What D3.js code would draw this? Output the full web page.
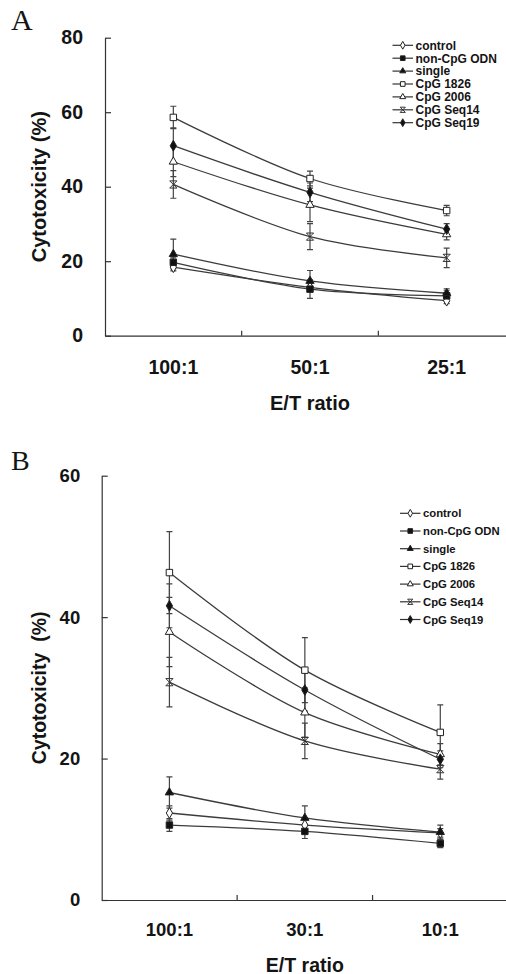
<!DOCTYPE html>
<html><head><meta charset="utf-8">
<script src="https://cdn.jsdelivr.net/npm/d3@7"></script>
<style>
body{margin:0;background:#fff}
svg{display:block}
text{font-family:Arial,"Liberation Sans",sans-serif;font-weight:bold;fill:#141414}
</style>
</head><body>
<svg id="chart" width="506" height="974"></svg>
<script>
// ---------- data ----------
const seriesNames = ["control","non-CpG ODN","single","CpG 1826","CpG 2006","CpG Seq14","CpG Seq19"];
const categoriesA = ["100:1","50:1","25:1"];
const categoriesB = ["100:1","30:1","10:1"];
const yTicksA = [0,20,40,60,80];
const yTicksB = [0,20,40,60];

// Panel A means (%)
const aControl = [18.4, 13.0, 9.4];
const aNonCpG  = [19.7, 12.5, 10.7];
const aSingle  = [21.9, 14.7, 11.4];
const a1826    = [58.6, 42.2, 33.6];
const a2006    = [46.7, 35.1, 27.2];
const aSeq14   = [40.6, 26.6, 20.9];
const aSeq19   = [51.0, 38.5, 28.6];
// Panel A error (SD)
const aControlErr = [1.0, 1.0, 0.8];
const aNonCpGErr  = [1.2, 2.5, 1.5];
const aSingleErr  = [4.0, 2.8, 1.2];
const a1826Err    = [3.0, 2.0, 1.4];
const a2006Err    = [4.0, 4.5, 1.5];
const aSeq14Err   = [3.7, 3.5, 2.6];
const aSeq19Err   = [4.8, 2.5, 1.5];

// Panel B means (%)
const bControl = [12.3, 10.6, 9.5];
const bNonCpG  = [10.6, 9.7, 8.0];
const bSingle  = [15.2, 11.6, 9.6];
const b1826    = [46.3, 32.5, 23.7];
const b2006    = [37.9, 26.5, 20.6];
const bSeq14   = [30.8, 22.5, 18.5];
const bSeq19   = [41.6, 29.7, 19.9];
// Panel B error (SD)
const bControlErr = [1.0, 0.8, 0.6];
const bNonCpGErr  = [0.9, 1.0, 0.6];
const bSingleErr  = [2.2, 1.7, 1.0];
const b1826Err    = [5.8, 4.6, 3.9];
const b2006Err    = [4.9, 3.5, 1.5];
const bSeq14Err   = [3.5, 2.5, 1.4];
const bSeq19Err   = [3.1, 3.0, 1.2];

// ---------- styling ----------
const markerStyles = [
  {type:d3.symbolDiamond, fill:"#fff"},
  {type:d3.symbolSquare,  fill:"#111"},
  {type:d3.symbolTriangle,fill:"#111"},
  {type:d3.symbolSquare,  fill:"#fff"},
  {type:d3.symbolTriangle,fill:"#fff"},
  {type:"x",              fill:"none"},
  {type:d3.symbolDiamond, fill:"#111"}
];
const lineColor = "#3c3c3c";
const svg = d3.select("#chart");

function drawMarker(g, style, x, y, size){
  if(style.type === "x"){
    const h = size;
    g.append("path")
      .attr("d", `M${x-h},${y-h}L${x+h},${y+h}M${x-h},${y+h}L${x+h},${y-h}M${x-h},${y-h}L${x+h},${y-h}M${x-h},${y+h}L${x+h},${y+h}`)
      .attr("stroke","#333").attr("stroke-width",1).attr("fill","none");
  } else {
    const area = style.type === d3.symbolDiamond ? size*size*2.6 : (style.type===d3.symbolTriangle ? size*size*2.3 : size*size*3.2);
    g.append("path")
      .attr("d", d3.symbol().type(style.type).size(area)())
      .attr("transform",`translate(${x},${y})`)
      .attr("fill", style.fill).attr("stroke","#222").attr("stroke-width",1);
  }
}

function drawPanel(cfg){
  const g = svg.append("g");
  const x = d3.scaleBand().domain(cfg.cats).range([cfg.xLeft, cfg.xRight]).padding(0);
  const y = d3.scaleLinear().domain([0, cfg.yMax]).range([cfg.yBottom, cfg.yTop]);

  // panel letter
  g.append("text").text(cfg.letter)
    .attr("x", cfg.letterX).attr("y", cfg.letterY)
    .style("font-family","'Liberation Serif','Times New Roman',serif")
    .style("font-weight","normal").style("font-size", cfg.letterSize+"px");

  // y axis: line + inner ticks
  const yAxisLine = g.append("g").attr("transform",`translate(${cfg.xLeft},0)`)
    .call(d3.axisRight(y).tickValues(cfg.yTicks).tickSize(6).tickSizeOuter(0).tickFormat(""));
  yAxisLine.selectAll("path,line").attr("stroke","#333").attr("stroke-width",1.2);
  // y labels
  const yLab = g.append("g").attr("transform",`translate(${cfg.xLeft},0)`)
    .call(d3.axisLeft(y).tickValues(cfg.yTicks).tickSize(0).tickPadding(cfg.yPad).tickFormat(d3.format("d")));
  yLab.select(".domain").remove();
  yLab.selectAll("text").style("font-size",cfg.tickFont+"px")
    .style("font-family","Arial,'Liberation Sans',sans-serif").style("font-weight","bold").attr("fill","#141414");

  // x axis
  const xAx = g.append("g").attr("transform",`translate(0,${cfg.yBottom})`)
    .call(d3.axisBottom(x).tickSize(0).tickPadding(cfg.xPad).tickSizeOuter(0));
  xAx.select(".domain").attr("stroke","#333").attr("stroke-width",1.2);
  xAx.selectAll("text").style("font-size",cfg.tickFont+"px")
    .style("font-family","Arial,'Liberation Sans',sans-serif").style("font-weight","bold").attr("fill","#141414");
  // boundary ticks (inside)
  g.selectAll(null).data(cfg.cats.slice(1)).enter().append("line")
    .attr("x1", d=>x(d)).attr("x2", d=>x(d))
    .attr("y1", cfg.yBottom).attr("y2", cfg.yBottom-5)
    .attr("stroke","#333").attr("stroke-width",1.2);

  // axis titles
  g.append("text").text("E/T ratio")
    .attr("x", (cfg.xLeft + x(cfg.cats[2]) + x.bandwidth()/2 + x(cfg.cats[0]) + x.bandwidth()/2 - cfg.xLeft)/2)
    .attr("y", cfg.xTitleY).attr("text-anchor","middle").style("font-size",cfg.titleFont+"px");
  g.append("text").text(cfg.yTitle)
    .attr("transform",`translate(${cfg.yTitleX},${(cfg.yTop+cfg.yBottom)/2}) rotate(-90)`)
    .attr("text-anchor","middle").style("font-size",cfg.titleFont+"px").style("white-space","pre");

  const cx = d => x(d) + x.bandwidth()/2;
  const line = d3.line().curve(d3.curveCatmullRom.alpha(0.5));

  // error bars
  cfg.values.forEach((vals, si) => {
    const errs = cfg.errors[si];
    vals.forEach((v, i) => {
      const px = cx(cfg.cats[i]);
      const top = y(v + errs[i]), bot = y(v - errs[i]);
      const cw = 3;
      g.append("path")
        .attr("d", `M${px},${top}L${px},${bot}M${px-cw},${top}L${px+cw},${top}M${px-cw},${bot}L${px+cw},${bot}`)
        .attr("stroke","#444").attr("stroke-width",1.2).attr("fill","none");
    });
  });
  // lines
  cfg.values.forEach((vals) => {
    g.append("path")
      .attr("d", line(vals.map((v,i)=>[cx(cfg.cats[i]), y(v)])))
      .attr("fill","none").attr("stroke",lineColor).attr("stroke-width",1.3);
  });
  // markers
  cfg.values.forEach((vals, si) => {
    vals.forEach((v,i)=> drawMarker(g, markerStyles[si], cx(cfg.cats[i]), y(v), cfg.markerSize));
  });

  // legend
  const lg = g.append("g");
  seriesNames.forEach((name, i) => {
    const ly = cfg.legY + i*cfg.legStep;
    lg.append("line").attr("x1", cfg.legX).attr("x2", cfg.legX + cfg.legLen)
      .attr("y1", ly).attr("y2", ly).attr("stroke","#333").attr("stroke-width",1.2);
    drawMarker(lg, markerStyles[i], cfg.legX + cfg.legLen/2, ly, cfg.legMarker);
    lg.append("text").text(name).attr("x", cfg.legX + cfg.legLen + 2.5).attr("y", ly)
      .attr("dy","0.36em").style("font-size", cfg.legFont+"px");
  });
}

drawPanel({
  letter:"A", letterX:11, letterY:29.5, letterSize:30,
  xLeft:105, xRight:515, yTop:37.7, yBottom:335.7, yMax:80, yTicks:yTicksA,
  cats:categoriesA, tickFont:19.5, yPad:22, xPad:24, titleFont:20,
  xTitleY:410, yTitle:"Cytotoxicity (%)", yTitleX:46,
  values:[aControl,aNonCpG,aSingle,a1826,a2006,aSeq14,aSeq19],
  errors:[aControlErr,aNonCpGErr,aSingleErr,a1826Err,a2006Err,aSeq14Err,aSeq19Err],
  markerSize:3.6,
  legX:392.5, legLen:20.5, legY:45.3, legStep:12.9, legFont:12, legMarker:2.6
});

drawPanel({
  letter:"B", letterX:11, letterY:470, letterSize:28,
  xLeft:101.7, xRight:508, yTop:475.7, yBottom:900, yMax:60, yTicks:yTicksB,
  cats:categoriesB, tickFont:18.5, yPad:21.5, xPad:23.3, titleFont:19.5,
  xTitleY:971.5, yTitle:"Cytotoxicity  (%)", yTitleX:46,
  values:[bControl,bNonCpG,bSingle,b1826,b2006,bSeq14,bSeq19],
  errors:[bControlErr,bNonCpGErr,bSingleErr,b1826Err,b2006Err,bSeq14Err,bSeq19Err],
  markerSize:3.6,
  legX:400, legLen:20.5, legY:513.3, legStep:17.7, legFont:11.3, legMarker:2.6
});
</script>
</body></html>
